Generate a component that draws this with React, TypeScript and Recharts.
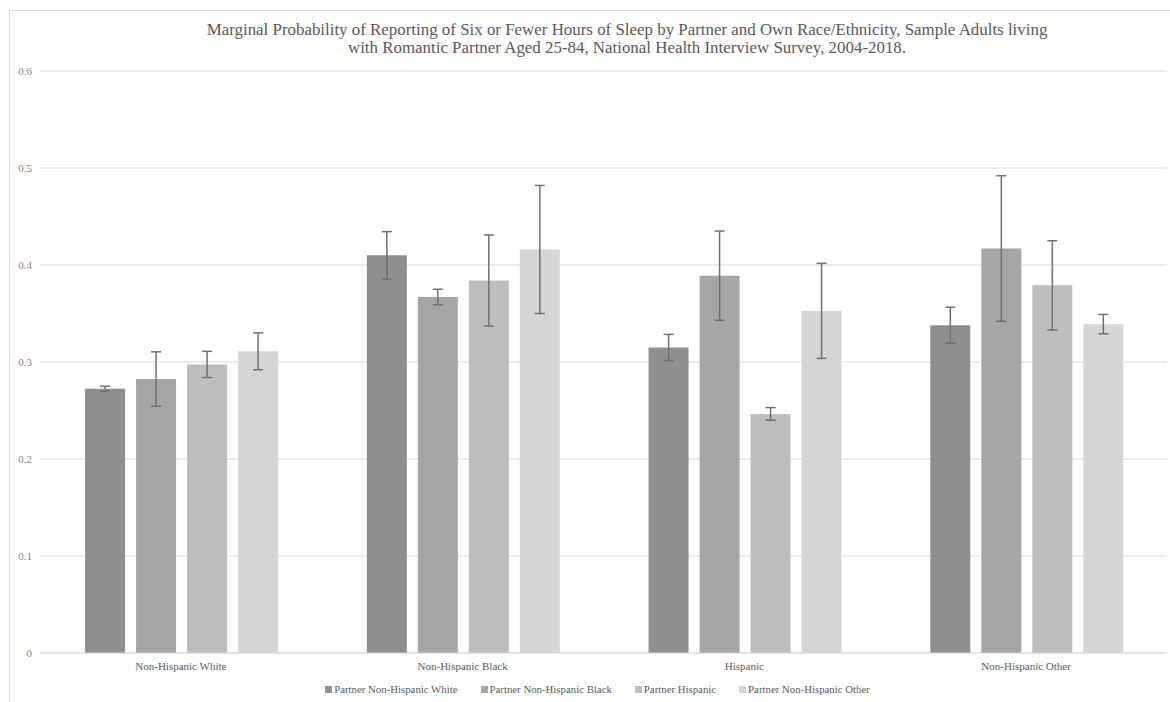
import React from "react";
import { BarChart, Bar, XAxis, YAxis, CartesianGrid, Legend, ErrorBar } from "recharts";

const categories = ["Non-Hispanic White", "Non-Hispanic Black", "Hispanic", "Non-Hispanic Other"];
const seriesNames = [
  "Partner Non-Hispanic White",
  "Partner Non-Hispanic Black",
  "Partner Hispanic",
  "Partner Non-Hispanic Other",
];
const partnerWhite = [0.2725, 0.41, 0.315, 0.338];
const partnerBlack = [0.2825, 0.367, 0.389, 0.417];
const partnerHispanic = [0.2975, 0.384, 0.2465, 0.379];
const partnerOther = [0.311, 0.416, 0.3527, 0.339];
const errWhite = [0.0025, 0.0244, 0.0135, 0.0185];
const errBlack = [0.028, 0.008, 0.046, 0.075];
const errHispanic = [0.0135, 0.047, 0.0065, 0.046];
const errOther = [0.019, 0.066, 0.049, 0.01];
const yTicks = [0, 0.1, 0.2, 0.3, 0.4, 0.5, 0.6];
const colors = ["#8f8f8f", "#a5a5a5", "#bdbdbd", "#d6d6d6"];

const data = categories.map((c, i) => ({
  name: c,
  s0: partnerWhite[i],
  s1: partnerBlack[i],
  s2: partnerHispanic[i],
  s3: partnerOther[i],
  e0: errWhite[i],
  e1: errBlack[i],
  e2: errHispanic[i],
  e3: errOther[i],
}));

const FONT = "Liberation Serif, serif";

const LegendContent = () => (
  <div style={{ display: "flex", justifyContent: "center", fontFamily: FONT, fontSize: 10.8, color: "#595959", paddingLeft: 28, paddingTop: 6 }}>
    {seriesNames.map((n, i) => (
      <div key={n} style={{ display: "flex", alignItems: "center", marginRight: i < 3 ? 23 : 0 }}>
        <span style={{ display: "inline-block", width: 7, height: 7, background: colors[i], marginRight: 2 }} />
        <span>{n}</span>
      </div>
    ))}
  </div>
);

export default function App() {
  return (
    <div style={{ position: "absolute", left: 0, top: 0, width: 1170, height: 702, background: "#fff", overflow: "hidden" }}>
      <div style={{ position: "absolute", left: 9, top: 10, width: 1170, height: 702, borderLeft: "1px solid #d9d9d9", borderTop: "1px solid #d9d9d9" }} />
      <div
        style={{
          position: "absolute",
          left: 177,
          top: 21,
          width: 900,
          textAlign: "center",
          fontFamily: FONT,
          fontSize: 16.9,
          lineHeight: "18px",
          color: "#595959",
        }}
      >
        Marginal Probability of Reporting of Six or Fewer Hours of Sleep by Partner and Own Race/Ethnicity, Sample Adults living
        <br />
        with Romantic Partner Aged 25-84, National Health Interview Survey, 2004-2018.
      </div>
      <div style={{ position: "absolute", left: 0, top: 0 }}>
        <BarChart
          width={1170}
          height={702}
          data={data}
          margin={{ top: 71, right: 3, left: 0, bottom: 0 }}
          barCategoryGap="16%"
          barGap={11}
        >
          <CartesianGrid vertical={false} stroke="#d9d9d9" />
          <XAxis
            dataKey="name"
            height={24}
            tickLine={false}
            axisLine={{ stroke: "#d9d9d9" }}
            tick={{ fontFamily: FONT, fontSize: 11, fill: "#595959", dy: 1 }}
          />
          <YAxis
            width={40}
            domain={[0, 0.6]}
            ticks={yTicks}
            axisLine={false}
            tickLine={false}
            tick={{ fontFamily: FONT, fontSize: 11, fill: "#7f7f7f" }}
          />
          <Legend verticalAlign="bottom" height={25} content={<LegendContent />} />
          {[0, 1, 2, 3].map((i) => (
            <Bar key={i} dataKey={`s${i}`} name={seriesNames[i]} fill={colors[i]} isAnimationActive={false}>
              <ErrorBar dataKey={`e${i}`} width={5} stroke="#707070" strokeWidth={1.5} />
            </Bar>
          ))}
        </BarChart>
      </div>
    </div>
  );
}
